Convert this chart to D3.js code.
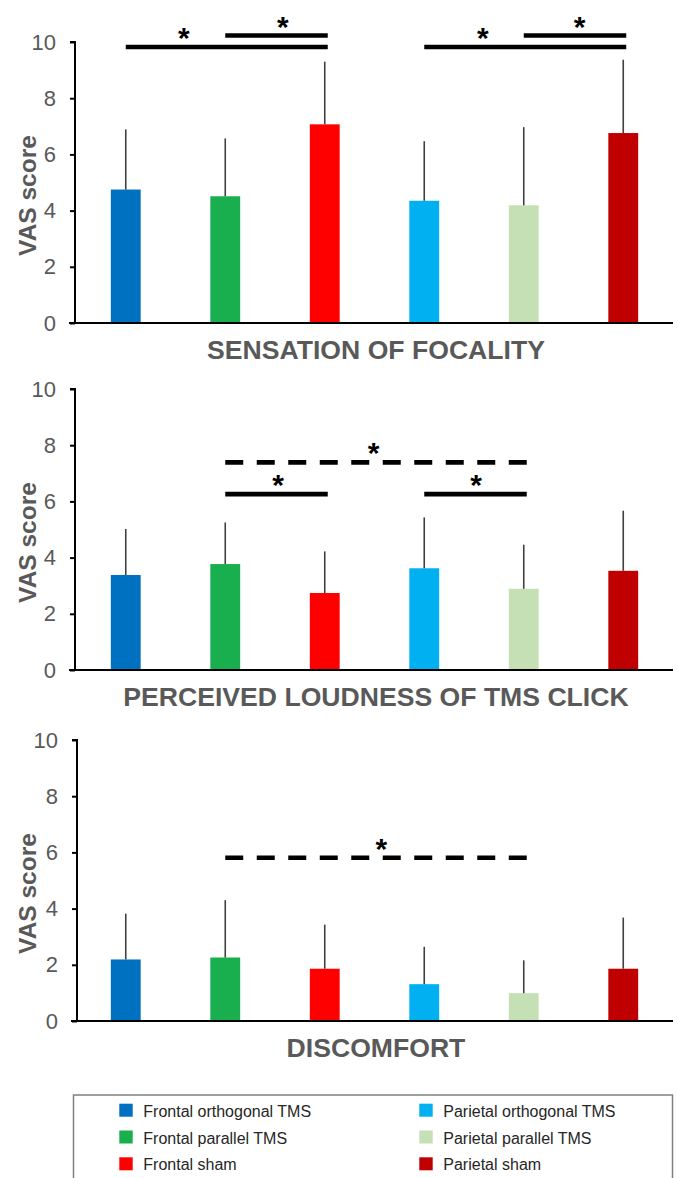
<!DOCTYPE html>
<html>
<head>
<meta charset="utf-8">
<script src="https://cdn.jsdelivr.net/npm/d3@7"></script>
<style>
  html, body { margin: 0; padding: 0; background: #fff; }
  svg { display: block; font-family: "Liberation Sans", Arial, sans-serif; }
</style>
</head>
<body>
<svg id="chart" width="678" height="1178"></svg>
<script>
// ---------- DATA ----------
const categories = ["Frontal orthogonal TMS", "Frontal parallel TMS", "Frontal sham",
                    "Parietal orthogonal TMS", "Parietal parallel TMS", "Parietal sham"];
const palette = ["#0070C0", "#19AF4E", "#FF0000", "#00B0F0", "#C5E0B4", "#C00000"];

const panelTitles = ["SENSATION OF FOCALITY", "PERCEIVED LOUDNESS OF TMS CLICK", "DISCOMFORT"];
const yTicks = [0, 2, 4, 6, 8, 10];
const yLabel = "VAS score";

const focalityMean   = [4.75, 4.51, 7.07, 4.35, 4.19, 6.76];
const focalitySD     = [2.14, 2.06, 2.23, 2.12, 2.78, 2.61];
const loudnessMean   = [3.38, 3.77, 2.74, 3.62, 2.89, 3.53];
const loudnessSD     = [1.64, 1.48, 1.48, 1.81, 1.57, 2.14];
const discomfortMean = [2.19, 2.26, 1.86, 1.31, 0.99, 1.86];
const discomfortSD   = [1.63, 2.04, 1.57, 1.33, 1.17, 1.82];

// significance brackets: from/to category index, level (VAS units), star position (category index units)
const focalitySig = [
  { from: 0, to: 2, level: 9.82, star: 0.585, dashed: false },
  { from: 1, to: 2, level: 10.23, star: 1.58, dashed: false },
  { from: 3, to: 5, level: 9.82, star: 3.59, dashed: false },
  { from: 4, to: 5, level: 10.23, star: 4.56, dashed: false }
];
const loudnessSig = [
  { from: 1, to: 4, level: 7.39, star: 2.49, dashed: true },
  { from: 1, to: 2, level: 6.26, star: 1.53, dashed: false },
  { from: 3, to: 4, level: 6.26, star: 3.52, dashed: false }
];
const discomfortSig = [
  { from: 1, to: 4, level: 5.81, star: 2.57, dashed: true }
];

// ---------- LAYOUT ----------
const panels = [
  { title: panelTitles[0], mean: focalityMean, sd: focalitySD, sig: focalitySig, y0: 323, axisX: 75 },
  { title: panelTitles[1], mean: loudnessMean, sd: loudnessSD, sig: loudnessSig, y0: 670, axisX: 75 },
  { title: panelTitles[2], mean: discomfortMean, sd: discomfortSD, sig: discomfortSig, y0: 1021, axisX: 77 }
];
const plotH = 281;
const grey = "#595959";

const svg = d3.select("#chart");

const x = d3.scaleBand()
  .domain(categories)
  .range([76, 673])
  .paddingInner(0.7)
  .paddingOuter(0.35);
const cx = i => x(categories[i]) + x.bandwidth() / 2;
const cxAt = t => cx(0) + t * x.step();

panels.forEach(p => {
  const g = svg.append("g");
  const y = d3.scaleLinear().domain([0, 10]).range([p.y0, p.y0 - plotH]);

  // bars
  g.selectAll("rect.bar").data(p.mean).join("rect")
    .attr("class", "bar")
    .attr("x", (d, i) => x(categories[i]))
    .attr("width", x.bandwidth())
    .attr("y", d => y(d))
    .attr("height", d => y(0) - y(d))
    .attr("fill", (d, i) => palette[i]);

  // error bars (upper only)
  g.selectAll("line.err").data(p.mean).join("line")
    .attr("class", "err")
    .attr("x1", (d, i) => cx(i)).attr("x2", (d, i) => cx(i))
    .attr("y1", d => y(d))
    .attr("y2", (d, i) => y(d + p.sd[i]))
    .attr("stroke", "#404040")
    .attr("stroke-width", 1.6);

  // y axis
  const yAxis = d3.axisLeft(y).tickValues(yTicks).tickSize(5).tickPadding(14).tickFormat(d3.format("d"));
  const ag = g.append("g").attr("transform", `translate(${p.axisX},0)`).call(yAxis);
  ag.select(".domain").attr("stroke", "#000").attr("stroke-width", 2).attr("d", `M-5,${y(10)}H0V${y(0)}`);
  ag.selectAll(".tick line").attr("stroke", "#000").attr("stroke-width", 2);
  ag.selectAll(".tick text")
    .attr("fill", grey)
    .style("font-size", "22px")
    .style("font-family", "'Liberation Sans', Arial, sans-serif");

  // x axis baseline
  g.append("line")
    .attr("x1", p.axisX - 6).attr("x2", x.range()[1])
    .attr("y1", y(0)).attr("y2", y(0))
    .attr("stroke", "#000").attr("stroke-width", 2.2);

  // y label
  g.append("text")
    .attr("transform", `translate(36,${(y(0) + y(10)) / 2 + 13}) rotate(-90)`)
    .attr("text-anchor", "middle")
    .attr("fill", grey)
    .style("font-size", "24.5px")
    .style("font-weight", "bold")
    .text(yLabel);

  // title
  g.append("text")
    .attr("x", 376)
    .attr("y", y(0) + 36)
    .attr("text-anchor", "middle")
    .attr("fill", grey)
    .style("font-size", "26.6px")
    .style("font-weight", "bold")
    .text(p.title);

  // significance brackets
  p.sig.forEach(s => {
    g.append("line")
      .attr("x1", cx(s.from)).attr("x2", cx(s.to) + 3)
      .attr("y1", y(s.level)).attr("y2", y(s.level))
      .attr("stroke", "#000")
      .attr("stroke-width", 4.6)
      .attr("stroke-dasharray", s.dashed ? "18,13.5" : null);
    g.append("text")
      .attr("x", cxAt(s.star))
      .attr("y", y(s.level) - 13 + 14)
      .attr("text-anchor", "middle")
      .attr("fill", "#000")
      .style("font-size", "30px")
      .style("font-weight", "bold")
      .text("*");
  });
});

// ---------- LEGEND ----------
const lg = svg.append("g");
lg.append("rect")
  .attr("x", 73.5).attr("y", 1095)
  .attr("width", 599).attr("height", 120)
  .attr("fill", "none").attr("stroke", "#808080").attr("stroke-width", 1.5);

const legX = [119.3, 419.3];
const legY = [1116.7, 1143.5, 1170.3];
categories.forEach((c, i) => {
  const col = Math.floor(i / 3), row = i % 3;
  lg.append("rect")
    .attr("x", legX[col]).attr("y", legY[row] - 13)
    .attr("width", 13.4).attr("height", 13)
    .attr("fill", palette[i]);
  lg.append("text")
    .attr("x", legX[col] + 24).attr("y", legY[row])
    .attr("fill", "#262626")
    .style("font-size", "16px")
    .text(c);
});
</script>
</body>
</html>
